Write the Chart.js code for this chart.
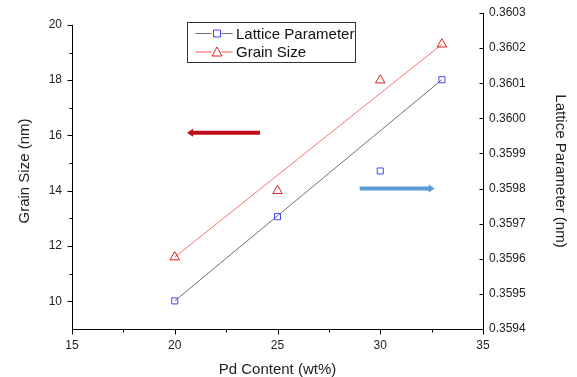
<!DOCTYPE html>
<html>
<head>
<meta charset="utf-8">
<script src="https://cdn.jsdelivr.net/npm/chart.js@4"></script>
<style>
  body { margin: 0; background: #fff; }
  canvas { display: block; }
</style>
</head>
<body>
<canvas id="chart" width="577" height="377"></canvas>
<script>
const pdContent = [20, 25, 30, 33];
const grainSize = [11.6, 14.0, 18.0, 19.3];
const latticeParam = [0.35948, 0.35972, 0.35985, 0.36011];

// straight guide lines drawn through the series
const fitX = [20, 33];
const grainFit = [11.6, 19.3];
const latticeFit = [0.35948, 0.36011];

const xTicks = [15, 20, 25, 30, 35];
const xMinor = [17.5, 22.5, 27.5, 32.5];
const grainTicks = [10, 12, 14, 16, 18, 20];
const grainMinor = [11, 13, 15, 17, 19];
const latticeTicks = [0.3594, 0.3595, 0.3596, 0.3597, 0.3598, 0.3599, 0.36, 0.3601, 0.3602, 0.3603];

// arrows: [tail x, head x], y value on its own axis
const grainArrowX = [24.15, 20.6];
const grainArrowY = 16.1;
const latticeArrowX = [29.0, 32.65];
const latticeArrowY = 0.3598;

const FONT = '"Liberation Sans", Arial, sans-serif';

const toPoints = (xs, ys) => xs.map((x, i) => ({ x: x, y: ys[i] }));

function drawArrow(ctx, x1, x2, y, color) {
  const dir = Math.sign(x2 - x1);
  ctx.save();
  ctx.strokeStyle = color;
  ctx.fillStyle = color;
  ctx.lineWidth = 4;
  ctx.beginPath();
  ctx.moveTo(x1, y);
  ctx.lineTo(x2 - dir * 4, y);
  ctx.stroke();
  ctx.beginPath();
  ctx.moveTo(x2, y);
  ctx.lineTo(x2 - dir * 6, y - 4);
  ctx.lineTo(x2 - dir * 6, y + 4);
  ctx.closePath();
  ctx.fill();
  ctx.restore();
}

const extras = {
  id: "extras",
  afterDraw(chart) {
    const { ctx, scales: { x, y, y1 } } = chart;
    const area = chart.chartArea;
    ctx.save();
    ctx.strokeStyle = "#000";
    ctx.lineWidth = 1;

    // left axis line only from 9 to 20
    const lx = Math.round(area.left) + 0.5;
    ctx.beginPath();
    ctx.moveTo(lx, y.getPixelForValue(9));
    ctx.lineTo(lx, y.getPixelForValue(20));
    ctx.stroke();

    ctx.beginPath();
    grainTicks.forEach((v) => {
      const p = Math.round(y.getPixelForValue(v)) + 0.5;
      ctx.moveTo(lx, p); ctx.lineTo(lx - 5, p);
    });
    grainMinor.forEach((v) => {
      const p = Math.round(y.getPixelForValue(v)) + 0.5;
      ctx.moveTo(lx, p); ctx.lineTo(lx - 3, p);
    });
    const by = Math.round(area.bottom) + 0.5;
    xTicks.forEach((v) => {
      const p = Math.round(x.getPixelForValue(v)) + 0.5;
      ctx.moveTo(p, by); ctx.lineTo(p, by + 5);
    });
    xMinor.forEach((v) => {
      const p = Math.round(x.getPixelForValue(v)) + 0.5;
      ctx.moveTo(p, by); ctx.lineTo(p, by + 3);
    });
    const rx = Math.round(area.right) + 0.5;
    latticeTicks.forEach((v) => {
      const p = Math.round(y1.getPixelForValue(v)) + 0.5;
      ctx.moveTo(rx, p); ctx.lineTo(rx - 4, p);
    });
    ctx.stroke();

    drawArrow(ctx, x.getPixelForValue(grainArrowX[0]), x.getPixelForValue(grainArrowX[1]),
      y.getPixelForValue(grainArrowY), "#c00d18");
    drawArrow(ctx, x.getPixelForValue(latticeArrowX[0]), x.getPixelForValue(latticeArrowX[1]),
      y1.getPixelForValue(latticeArrowY), "#5b9bd5");

    // legend box
    const bx = area.left + 115.5, bTop = area.top + 9.5;
    ctx.strokeStyle = "#333";
    ctx.strokeRect(bx, bTop, 168, 40);
    ctx.font = "15px " + FONT;
    ctx.textBaseline = "middle";
    ctx.fillStyle = "#111";
    const rows = [
      { label: "Lattice Parameter", line: "#707070", mark: "#4646f0", style: "rect" },
      { label: "Grain Size", line: "#ff5050", mark: "#e02020", style: "triangle" },
    ];
    rows.forEach((r, i) => {
      const ry = bTop + 11 + i * 18.5;
      ctx.strokeStyle = r.line;
      ctx.beginPath();
      ctx.moveTo(bx + 8, ry); ctx.lineTo(bx + 24, ry);
      ctx.moveTo(bx + 34, ry); ctx.lineTo(bx + 45, ry);
      ctx.stroke();
      ctx.strokeStyle = r.mark;
      ctx.beginPath();
      if (r.style === "rect") {
        ctx.rect(bx + 26, ry - 3.5, 7, 7);
      } else {
        ctx.moveTo(bx + 29.5, ry - 5);
        ctx.lineTo(bx + 34.5, ry + 4);
        ctx.lineTo(bx + 24.5, ry + 4);
        ctx.closePath();
      }
      ctx.stroke();
      ctx.fillText(r.label, bx + 48.5, ry + 1);
    });
    ctx.restore();
  },
};

new Chart(document.getElementById("chart"), {
  type: "scatter",
  data: {
    datasets: [
      {
        label: "Lattice Parameter",
        data: toPoints(pdContent, latticeParam),
        yAxisID: "y1",
        pointStyle: "rect",
        pointRadius: 4.3,
        borderColor: "#4646f0",
        backgroundColor: "rgba(0,0,0,0)",
        borderWidth: 1,
        showLine: false,
      },
      {
        label: "Grain Size",
        data: toPoints(pdContent, grainSize),
        yAxisID: "y",
        pointStyle: "triangle",
        pointRadius: 5.5,
        borderColor: "#e02020",
        backgroundColor: "rgba(0,0,0,0)",
        borderWidth: 1,
        showLine: false,
      },
      {
        label: "lattice line",
        data: toPoints(fitX, latticeFit),
        yAxisID: "y1",
        showLine: true,
        borderColor: "#707070",
        borderWidth: 1,
        pointRadius: 0,
      },
      {
        label: "grain line",
        data: toPoints(fitX, grainFit),
        yAxisID: "y",
        showLine: true,
        borderColor: "#ff7070",
        borderWidth: 1,
        pointRadius: 0,
      },
    ],
  },
  options: {
    responsive: false,
    animation: false,
    layout: { padding: { top: 13, left: 0, right: 0, bottom: 0 } },
    plugins: { legend: { display: false }, tooltip: { enabled: false } },
    scales: {
      x: {
        type: "linear",
        min: 15,
        max: 35,
        afterBuildTicks: (s) => { s.ticks = xTicks.map((v) => ({ value: v })); },
        afterFit: (s) => { s.height = 48; s.paddingLeft = 0; s.paddingRight = 0; },
        grid: { display: false, drawTicks: false },
        border: { display: true, color: "#000", width: 1 },
        ticks: { padding: 9, color: "#222", font: { family: FONT, size: 12 }, maxRotation: 0 },
        title: { display: true, text: "Pd Content (wt%)", color: "#222",
          font: { family: FONT, size: 15, lineHeight: 1 }, padding: 0 },
      },
      y: {
        type: "linear",
        position: "left",
        min: 9,
        max: 20.43,
        afterBuildTicks: (s) => { s.ticks = grainTicks.map((v) => ({ value: v })); },
        afterFit: (s) => { s.width = 72; s.paddingTop = 0; s.paddingBottom = 0; },
        grid: { display: false, drawTicks: false },
        border: { display: false },
        ticks: { padding: 10, color: "#222", font: { family: FONT, size: 12 } },
        title: { display: true, text: "Grain Size (nm)", color: "#222",
          font: { family: FONT, size: 15, lineHeight: 1.2 }, padding: { top: 16, bottom: 0 } },
      },
      y1: {
        type: "linear",
        position: "right",
        min: 0.3594,
        max: 0.3603,
        afterBuildTicks: (s) => { s.ticks = latticeTicks.map((v) => ({ value: v })); },
        afterFit: (s) => { s.width = 94; s.paddingTop = 0; s.paddingBottom = 0; },
        grid: { display: false, drawTicks: false },
        border: { display: true, color: "#000", width: 1 },
        ticks: { padding: 6, color: "#222", font: { family: FONT, size: 12 },
          callback: (v) => Number(v).toFixed(4) },
        title: { display: true, text: "Lattice Parameter (nm)", color: "#222",
          font: { family: FONT, size: 15, lineHeight: 1.2 }, padding: { top: 8, bottom: 0 } },
      },
    },
  },
  plugins: [extras],
});
</script>
</body>
</html>
